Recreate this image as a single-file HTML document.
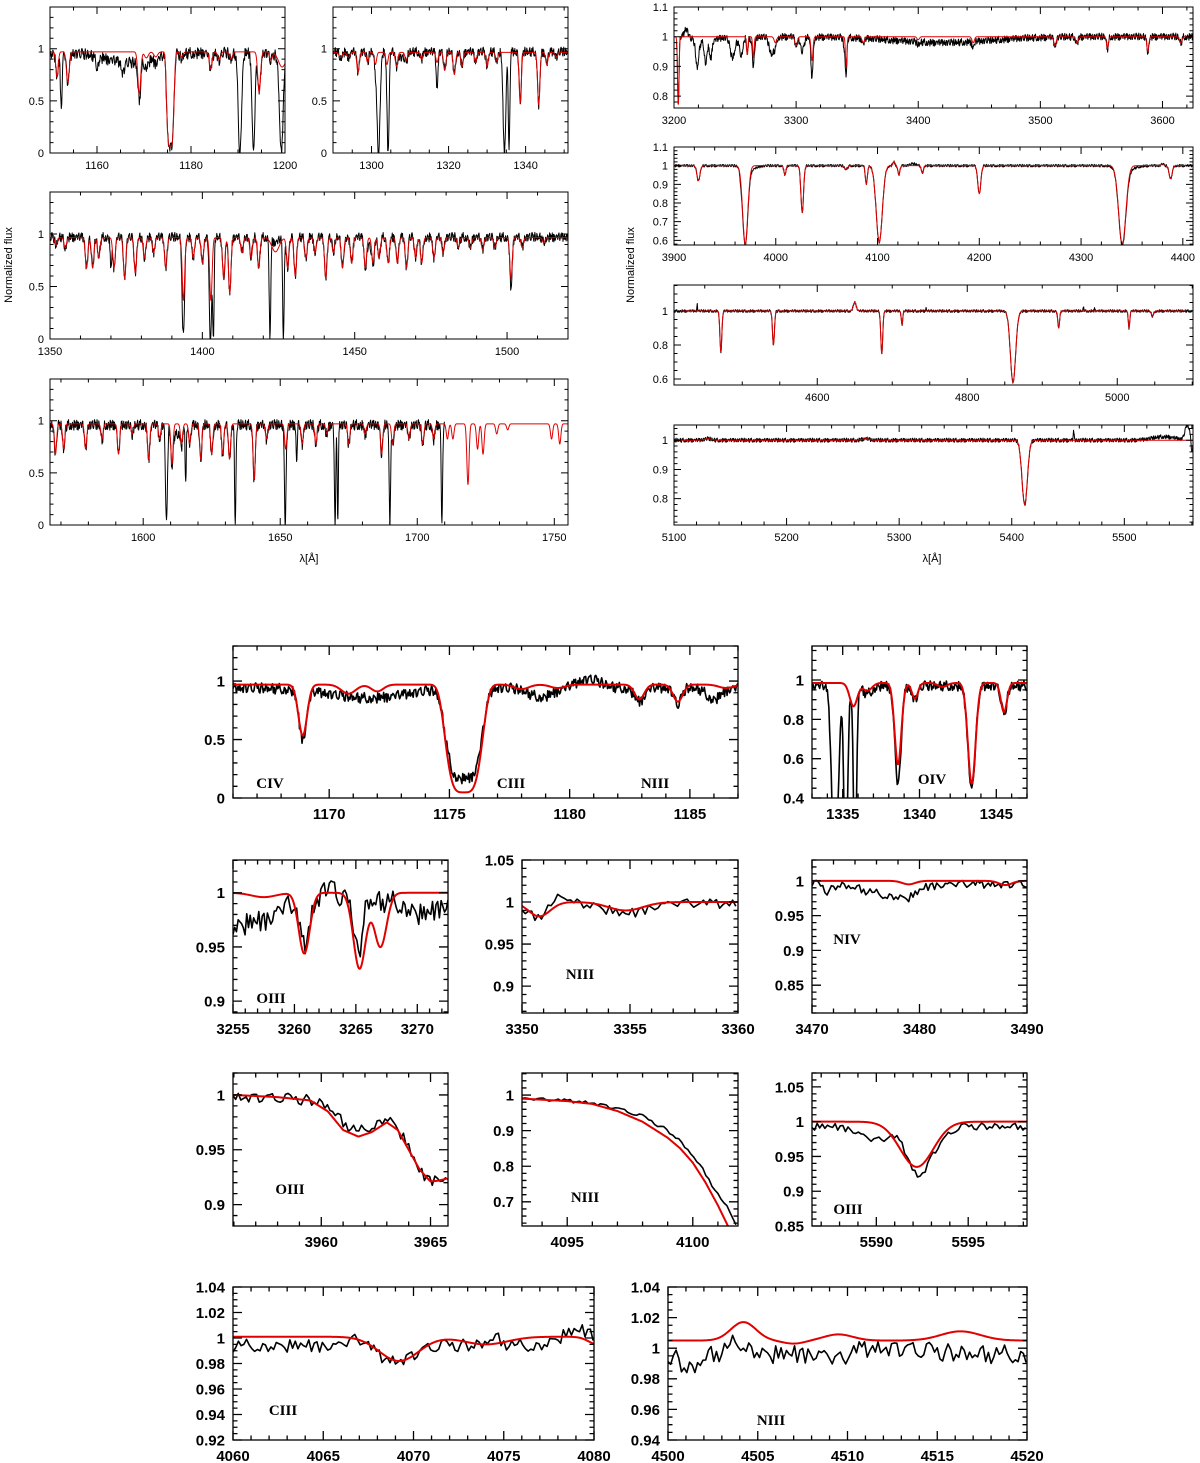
<!DOCTYPE html>
<html><head><meta charset="utf-8">
<style>
html,body{margin:0;padding:0;background:#fff;}
svg{display:block;}
</style></head>
<body>
<svg id="fig" width="1200" height="1463" viewBox="0 0 1200 1463" xmlns="http://www.w3.org/2000/svg">
  <rect x="0" y="0" width="1200" height="1463" fill="#fff"/>
  <text x="0" y="0" transform="translate(12,265) rotate(-90)" text-anchor="middle" font-family="Liberation Sans, sans-serif" font-size="11">Normalized flux</text>
  <text x="0" y="0" transform="translate(634,265) rotate(-90)" text-anchor="middle" font-family="Liberation Sans, sans-serif" font-size="11">Normalized flux</text>
  <text x="309" y="562" text-anchor="middle" font-family="Liberation Sans, sans-serif" font-size="11">λ[Å]</text>
  <text x="932" y="562" text-anchor="middle" font-family="Liberation Sans, sans-serif" font-size="11">λ[Å]</text>
</svg>
<script>
// ---------- shared noise table (hand-typed jitter values) ----------
const NOISE=[0.3,-0.8,0.5,-0.2,0.9,-0.6,0.1,-1.0,0.7,-0.3,0.4,-0.9,0.2,0.8,-0.5,-0.1,0.6,-0.7,1.0,-0.4,
0.0,0.5,-0.8,0.3,-0.2,0.9,-0.6,0.2,-0.9,0.7,0.1,-0.3,0.8,-0.5,0.4,-1.0,0.6,-0.1,0.3,-0.7,
0.9,-0.4,0.2,-0.8,0.5,0.0,-0.6,0.7,-0.2,1.0,-0.9,0.4,-0.3,0.6,-0.5,0.1,0.8,-0.7,0.3,-0.1,
-0.4,0.9,-0.8,0.2,0.5,-0.6,0.0,0.7,-1.0,0.4,-0.2,0.6,-0.3,0.8,-0.5,0.1,-0.9,0.3,0.7,-0.4,
0.5,-0.1,0.2,-0.7,0.9,-0.6,0.4,-0.2,0.0,0.6,-0.8,0.3,-0.5,1.0,-0.3,0.1,-0.4,0.7,-0.9,0.2,0.5];

// ---------- panel P1: 1150-1200 ----------
const p1ModelLines=[[1151.5,0.25,0.25],[1153.8,0.3,0.3],[1169,0.42,0.3],[1170.5,0.06,0.4],[1172.5,0.05,0.4],[1175.6,0.94,0.75,4],[1178,0.05,0.3],[1184.2,0.17,0.3],[1186,0.08,0.3],[1188.5,0.07,0.3],[1194.5,0.4,0.3],[1197,0.08,0.3],[1199.4,0.15,0.8]];
const p1ObsExtra=[[1152.4,0.55,0.18],[1167,0.1,5],[1160,0.1,0.3],[1165.5,0.12,0.3],[1190.4,1,0.35],[1193.3,1,0.3],[1199.2,1,0.35],[1175.7,-0.1,0.4]];
// ---------- panel P2: 1290-1350 ----------
const p2ModelLines=[[1292,0.05,0.4],[1294,0.05,0.4],[1296.5,0.2,0.3],[1299,0.1,0.3],[1301,0.12,0.3],[1304,0.12,0.3],[1306.5,0.14,0.3],[1309,0.08,0.3],[1313,0.07,0.3],[1317,0.1,0.3],[1319,0.18,0.3],[1321.5,0.22,0.3],[1323.5,0.14,0.3],[1327,0.1,0.3],[1330,0.14,0.3],[1332.5,0.08,0.3],[1338.6,0.5,0.28],[1343.4,0.52,0.3],[1345.5,0.12,0.3],[1348,0.05,0.3]];
const p2ObsExtra=[[1301.8,1,0.4],[1304.3,1,0.25],[1334.5,1,0.35],[1335.7,1,0.2],[1317,0.3,0.2],[1308,0.06,0.8]];
// ---------- panel P3: 1350-1520 ----------
const p3ModelLines=[[1352,0.08,0.4],[1355,0.1,0.4],[1362,0.3,0.4],[1364,0.3,0.4],[1366,0.2,0.4],[1371,0.3,0.4],[1374.5,0.4,0.4],[1378,0.35,0.4],[1381,0.2,0.4],[1384,0.15,0.4],[1388,0.3,0.4],[1393.8,0.62,0.4],[1397,0.2,0.4],[1400,0.25,0.4],[1402.8,0.62,0.4],[1407,0.4,0.4],[1409,0.55,0.4],[1413,0.15,0.4],[1416,0.2,0.4],[1418.5,0.3,0.4],[1424,0.14,1.2],[1428,0.3,0.4],[1430.5,0.38,0.4],[1434,0.2,0.4],[1437,0.15,0.4],[1440.5,0.4,0.4],[1443,0.15,0.4],[1446,0.3,0.4],[1449,0.25,0.4],[1453.5,0.3,0.4],[1456,0.25,0.4],[1458,0.2,0.4],[1461,0.25,0.4],[1464,0.25,0.4],[1467,0.3,0.4],[1470,0.2,0.4],[1472,0.25,0.4],[1476,0.2,0.4],[1479,0.15,0.4],[1484,0.1,0.4],[1488,0.1,0.4],[1492,0.12,0.4],[1496,0.1,0.4],[1501.3,0.4,0.4],[1505,0.1,0.4],[1512,0.05,0.4]];
const p3ObsExtra=[[1393.7,0.9,0.3],[1402.6,1,0.3],[1403.6,1,0.25],[1422.2,1,0.25],[1426.6,1,0.25],[1370,0.3,0.25],[1501.3,0.2,0.25],[1424,-0.1,1.2],[1455,0.08,1]];
// ---------- panel P4: 1566-1755 ----------
const p4ModelLines=[[1568,0.3,0.4],[1571,0.25,0.4],[1579,0.25,0.4],[1585,0.15,0.4],[1591,0.3,0.4],[1596,0.1,0.4],[1602,0.35,0.4],[1606,0.15,0.4],[1610.5,0.4,0.4],[1614,0.2,0.4],[1617,0.2,0.4],[1621,0.35,0.4],[1625,0.3,0.4],[1629,0.3,0.4],[1631.5,0.35,0.4],[1640.5,0.55,0.4],[1645,0.15,0.4],[1652,0.25,0.4],[1658,0.2,0.4],[1663,0.2,0.4],[1667,0.1,0.4],[1675,0.2,0.4],[1681,0.1,0.4],[1687,0.3,0.4],[1691,0.2,0.4],[1697,0.15,0.4],[1702,0.2,0.4],[1706,0.15,0.4],[1711,0.15,0.4],[1713,0.15,0.4],[1718.5,0.6,0.4],[1722,0.25,0.4],[1724,0.3,0.4],[1729,0.1,0.4],[1733,0.06,0.4],[1749,0.15,0.4],[1752,0.2,0.4]];
const p4ObsExtra=[[1608.5,1,0.35],[1615.5,0.6,0.2],[1633.6,1,0.25],[1651.8,1,0.25],[1656,0.4,0.2],[1670,1,0.25],[1671,1,0.2],[1690,1,0.25],[1709,1,0.25],[1612,0.1,1.2]];
// ---------- panel R1: 3200-3625 ----------
const r1ModelLines=[[3203.5,0.23,0.6],[3260,0.06,0.6],[3265,0.07,0.6],[3283,0.02,1],[3300,0.03,1],[3313,0.08,0.8],[3341,0.1,0.6],[3355,0.02,1],[3400,0.01,1],[3445,0.02,1],[3512,0.03,1],[3530,0.02,1],[3555,0.04,0.8],[3588,0.05,0.8],[3615,0.02,1]];
const r1ObsExtra=[[3210,-0.03,1.5],[3219,0.09,1.2],[3226,0.07,1],[3230,0.06,1],[3248,0.07,2],[3255,0.06,1.5],[3265,0.04,1.5],[3280,0.06,2],[3305,0.05,1.5],[3313,0.06,1],[3340,0.05,1],[3420,0.02,40],[3225,0.02,8]];
// ---------- panel R2: 3900-4410 ----------
const r2ModelLines=[[3924,0.08,1.5],[3970,0.42,2.5],[4009,0.05,1],[4026,0.25,1.3],[4069,0.02,1.5],[4089,0.1,1],[4101.7,0.41,3],[4116,-0.02,1],[4121,0.05,1],[4144,0.04,1],[4200,0.15,1.5],[4340.5,0.42,3.5],[4380,-0.01,1],[4388,0.07,1.5]];
const r2ObsExtra=[[3966,0.03,1],[4135,-0.01,3],[3975,0.02,6],[4345,0.02,8]];
// ---------- panel R3: 4409-5101 ----------
const r3ModelLines=[[4471.5,0.24,1.3],[4541.6,0.2,1.3],[4650,-0.05,2],[4686,0.25,1.3],[4713,0.08,1],[4861,0.42,3.5],[4921.9,0.1,1.2],[5015.7,0.1,1],[5047,0.03,1.5]];
const r3ObsExtra=[[4440,-0.04,0.4],[4745,-0.02,0.4],[4955,-0.03,0.4],[4970,-0.02,0.4]];
// ---------- panel R4: 5100-5560 ----------
const r4ModelLines=[[5130,-0.005,3],[5270,-0.005,3],[5411.5,0.22,2.4]];
const r4ObsExtra=[[5455,-0.03,0.4],[5535,-0.012,10],[5556,-0.05,2],[5560,0.05,0.6]];
// ---------- bottom panels ----------
const b1ModelLines=[[1168.9,0.45,0.18],[1170.8,0.08,0.3],[1172,0.06,0.25],[1175.6,0.95,0.72,4],[1178,0.04,0.3],[1179.5,0.03,0.3],[1182.9,0.13,0.2],[1184.5,0.15,0.2],[1186.5,0.03,0.3]];
const b1ObsLines=[[1168.9,0.45,0.16],[1171.6,0.09,1.6],[1175.6,0.82,0.72,4],[1178.8,0.08,0.5],[1180.8,-0.08,0.5],[1182.9,0.12,0.2],[1184.5,0.15,0.15],[1186,0.1,0.3]];
const b2ModelLines=[[1335.7,0.12,0.25],[1336.6,0.04,0.3],[1338.6,0.42,0.22],[1339.7,0.08,0.2],[1341.5,0.02,0.3],[1343.4,0.52,0.25],[1345.5,0.15,0.2]];
const b2ObsLines=[[1334.5,1,0.2],[1335.2,1,0.12],[1335.8,1,0.1],[1336.6,0.04,0.3],[1338.6,0.52,0.2],[1339.7,0.07,0.2],[1343.4,0.54,0.24],[1345.5,0.15,0.18]];
const b3ModelLines=[[3257.5,0.004,1],[3260.8,0.056,0.45],[3265.3,0.07,0.5],[3267,0.05,0.5]];
const b3ObsLines=[[3255,0.02,1.2],[3257.5,0.015,1.2],[3260.8,0.04,0.4],[3262.8,-0.015,0.5],[3265.2,0.05,0.3],[3270.5,0.012,1]];
const b4ModelLines=[[3350.8,0.017,0.5],[3354.8,0.01,0.8]];
const b4ObsLines=[[3350.6,0.015,0.5],[3352,-0.01,0.4],[3354.8,0.012,0.8]];
const b5ModelLines=[[3479,0.005,0.6],[3488,0.006,0.6]];
const b5ObsLines=[[3477,0.015,2],[3479,0.01,0.8],[3471.5,0.01,0.4]];
const b6ModelX=[3956,3958,3959.5,3960.3,3961,3961.7,3962.3,3963,3963.5,3964,3964.5,3965,3965.4,3965.8];
const b6ModelY=[1.0,0.998,0.995,0.985,0.968,0.962,0.966,0.975,0.968,0.950,0.932,0.921,0.922,0.924];
const b6ObsY=[0.998,0.997,0.995,0.99,0.975,0.966,0.972,0.98,0.97,0.952,0.93,0.922,0.925,0.922];
const b7ModelX=[4093.2,4095,4096,4097,4098,4099,4099.5,4100,4100.5,4101,4101.4,4101.8];
const b7ModelY=[0.99,0.983,0.975,0.955,0.925,0.88,0.85,0.81,0.755,0.69,0.632,0.58];
const b7ObsY=[0.99,0.984,0.978,0.962,0.94,0.9,0.87,0.83,0.78,0.72,0.68,0.63];
const b8ModelLines=[[5592.2,0.065,0.9]];
const b8ObsLines=[[5592.3,0.07,0.6],[5590,0.02,0.8],[5593.5,0.015,0.5]];
const b9ModelLines=[[4069.2,0.019,1.1],[4074,0.006,1.2],[4080.2,0.006,0.5]];
const b9ObsLines=[[4069,0.012,1],[4067,-0.006,0.5],[4079.2,-0.012,1],[4074.5,-0.006,0.4]];
const b10ModelLines=[[4504.2,-0.012,0.7],[4509.5,-0.004,0.8],[4516.3,-0.006,1.1],[4507,0.002,0.6]];
const b10ObsLines=[[4501.2,0.01,0.5],[4504,-0.008,0.6],[4509.5,0.006,0.5],[4512,-0.004,2]];

const NS='http://www.w3.org/2000/svg';
const svg=document.getElementById('fig');
function mk(tag,attrs,parent){const e=document.createElementNS(NS,tag);for(const k in attrs)e.setAttribute(k,attrs[k]);(parent||svg).appendChild(e);return e;}
function profile(l,cont,lines){let v=cont;for(const ln of lines){const p=ln[3]||2;const z=Math.abs((l-ln[0])/ln[2]);v*=(1-ln[1]*Math.exp(-0.5*Math.pow(z,p)));}return v;}
function interp(xs,ys,x){if(x<=xs[0])return ys[0];for(let i=1;i<xs.length;i++){if(x<=xs[i]){const t=(x-xs[i-1])/(xs[i]-xs[i-1]);return ys[i-1]+t*(ys[i]-ys[i-1]);}}return ys[ys.length-1];}

let clipId=0;
function panel(c){
  const g=mk('g',{});
  
  
  const X=v=>c.px0+(v-c.xmin)/(c.xmax-c.xmin)*(c.px1-c.px0);
  const Y=v=>c.py1-(v-c.ymin)/(c.ymax-c.ymin)*(c.py1-c.py0);
  const id='clip'+(clipId++);
  const cp=mk('clipPath',{id:id},g);
  mk('rect',{x:c.px0,y:c.py0,width:c.px1-c.px0,height:c.py1-c.py0},cp);
  const sg=mk('g',{'clip-path':'url(#'+id+')'},g);
  
  
  for(const s of c.series){
    let d='';let i=0;
    const x0=s.from!==undefined?s.from:c.xmin, x1=s.to!==undefined?s.to:c.xmax;
    for(let l=x0;l<=x1+1e-9;l+=s.step){
      let v=s.lines?profile(l,s.cont,s.lines):interp(s.xs,s.ys,l);
      if(s.amp)v+=s.amp*NOISE[(i*37+s.seed)%NOISE.length];
      d+=(i?'L':'M')+X(l).toFixed(2)+' '+Y(v).toFixed(2);i++;
    }
    const p=mk('path',{d:d,fill:'none',stroke:s.color,'stroke-width':s.w,'stroke-linejoin':'round'},sg);
    
    
  }
  const fr=mk('rect',{x:c.px0,y:c.py0,width:c.px1-c.px0,height:c.py1-c.py0,fill:'none',stroke:'#000','stroke-width':c.fw},g);
  
  
  let td='';
  const eps=1e-6;
  for(let k=Math.ceil(c.xmin/c.xminor-eps);k*c.xminor<=c.xmax+eps;k++){
    const v=k*c.xminor;const maj=Math.abs(v/c.xmajor-Math.round(v/c.xmajor))<1e-4;
    const L=maj?c.tl:c.tl/2;const x=X(v).toFixed(2);
    td+=`M${x} ${c.py1}V${c.py1-L}M${x} ${c.py0}V${c.py0+L}`;
    if(maj){const t=mk('text',{x:x,y:c.py1+c.lab,'text-anchor':'middle','font-family':'Liberation Sans, sans-serif','font-size':c.fs,'font-weight':c.fwt},g);
      t.textContent=String(parseFloat(v.toFixed(3)));
      
      }
  }
  for(let k=Math.ceil(c.ymin/c.yminor-eps);k*c.yminor<=c.ymax+eps;k++){
    const v=k*c.yminor;const maj=Math.abs(v/c.ymajor-Math.round(v/c.ymajor))<1e-4;
    const L=maj?c.tl:c.tl/2;const y=Y(v).toFixed(2);
    td+=`M${c.px0} ${y}H${c.px0+L}M${c.px1} ${y}H${c.px1-L}`;
    if(maj){const t=mk('text',{x:c.px0-c.ylab,y:(+y+c.fs*0.36).toFixed(2),'text-anchor':'end','font-family':'Liberation Sans, sans-serif','font-size':c.fs,'font-weight':c.fwt},g);
      t.textContent=String(parseFloat(v.toFixed(3)));
      
      }
  }
  const tk=mk('path',{d:td,stroke:'#000','stroke-width':c.fw,fill:'none'},g);
  
  
  for(const a of (c.ions||[])){
    const t=mk('text',{x:a[1],y:a[2],'text-anchor':'middle','font-family':'Liberation Serif, serif','font-size':15,'font-weight':'bold'},g);
    t.textContent=a[0];
    
    
  }
}
const TOP={fw:1,tl:7,fs:11,fwt:'normal',lab:16,ylab:6};
const BOT={fw:1.3,tl:9,fs:15,fwt:'bold',lab:21,ylab:8};
function M(lines,cont,step){return {lines:lines,cont:cont,step:step,color:'#e00000',w:1,label:'model-line'};}
function O(lines,cont,step,amp,seed){return {lines:lines,cont:cont,step:step,amp:amp,seed:seed,color:'#000',w:1,label:'observed-line'};}

panel(Object.assign({},TOP,{name:'panel-1150-1200',px0:50,px1:285,py0:7,py1:153,xmin:1150,xmax:1200,ymin:0,ymax:1.4,xmajor:20,xminor:5,ymajor:0.5,yminor:0.1,
 series:[O(p1ModelLines.concat(p1ObsExtra),0.96,0.1,0.055,1),M(p1ModelLines,0.97,0.05)]}));
panel(Object.assign({},TOP,{name:'panel-1290-1350',px0:333,px1:568,py0:7,py1:153,xmin:1290,xmax:1351,ymin:0,ymax:1.4,xmajor:20,xminor:5,ymajor:0.5,yminor:0.1,
 series:[O(p2ModelLines.concat(p2ObsExtra),0.97,0.1,0.045,5),M(p2ModelLines,0.965,0.05)]}));
panel(Object.assign({},TOP,{name:'panel-1350-1520',px0:50,px1:568,py0:192,py1:339,xmin:1350,xmax:1520,ymin:0,ymax:1.4,xmajor:50,xminor:10,ymajor:0.5,yminor:0.1,
 series:[O(p3ModelLines.concat(p3ObsExtra),0.97,0.13,0.045,9),M(p3ModelLines,0.965,0.08)]}));
panel(Object.assign({},TOP,{name:'panel-1566-1755',px0:50,px1:568,py0:379,py1:525,xmin:1566,xmax:1755,ymin:0,ymax:1.4,xmajor:50,xminor:10,ymajor:0.5,yminor:0.1,
 series:[Object.assign(O(p4ModelLines.concat(p4ObsExtra),0.96,0.13,0.05,13),{to:1710}),M(p4ModelLines,0.97,0.08)]}));
panel(Object.assign({},TOP,{name:'panel-3200-3625',px0:674,px1:1193,py0:7,py1:108,xmin:3200,xmax:3625,ymin:0.76,ymax:1.1,xmajor:100,xminor:20,ymajor:0.1,yminor:0.02,
 series:[Object.assign(O(r1ModelLines.concat(r1ObsExtra),1.0,0.3,0.012,17),{from:3202}),M(r1ModelLines,1.0,0.2)]}));
panel(Object.assign({},TOP,{name:'panel-3900-4410',px0:674,px1:1193,py0:147,py1:245,xmin:3900,xmax:4410,ymin:0.575,ymax:1.1,xmajor:100,xminor:20,ymajor:0.1,yminor:0.02,
 series:[O(r2ModelLines.concat(r2ObsExtra),1.0,0.35,0.007,21),M(r2ModelLines,1.0,0.25)]}));
panel(Object.assign({},TOP,{name:'panel-4409-5101',px0:674,px1:1193,py0:285,py1:385,xmin:4409,xmax:5101,ymin:0.565,ymax:1.153,xmajor:200,xminor:50,ymajor:0.2,yminor:0.05,
 series:[O(r3ModelLines.concat(r3ObsExtra),1.0,0.45,0.008,25),M(r3ModelLines,1.0,0.3)]}));
panel(Object.assign({},TOP,{name:'panel-5100-5560',px0:674,px1:1193,py0:425,py1:525,xmin:5100,xmax:5561,ymin:0.71,ymax:1.052,xmajor:100,xminor:20,ymajor:0.1,yminor:0.02,
 series:[O(r4ModelLines.concat(r4ObsExtra),1.0,0.3,0.007,29),M(r4ModelLines,1.0,0.3)]}));

function BM(lines,cont,step){return {lines:lines,cont:cont,step:step,color:'#e00000',w:2,label:'model-line'};}
function BO(lines,cont,step,amp,seed){return {lines:lines,cont:cont,step:step,amp:amp,seed:seed,color:'#000',w:1.6,label:'observed-line'};}
panel(Object.assign({},BOT,{name:'panel-civ-ciii-niii',px0:233,px1:738,py0:646,py1:798,xmin:1166,xmax:1187,ymin:0,ymax:1.3,xmajor:5,xminor:1,ymajor:0.5,yminor:0.1,
 ions:[['CIV',270,788],['CIII',511,788],['NIII',655,788]],
 series:[BO(b1ObsLines,0.94,0.035,0.045,3),BM(b1ModelLines,0.97,0.02)]}));
panel(Object.assign({},BOT,{name:'panel-oiv',px0:812,px1:1027,py0:646,py1:798,xmin:1333,xmax:1347,ymin:0.4,ymax:1.173,xmajor:5,xminor:1,ymajor:0.2,yminor:0.05,
 ions:[['OIV',932,784]],
 series:[BO(b2ObsLines,0.97,0.05,0.025,7),BM(b2ModelLines,0.985,0.02)]}));
panel(Object.assign({},BOT,{name:'panel-oiii-3265',px0:233,px1:448,py0:860,py1:1013,xmin:3255,xmax:3272.5,ymin:0.889,ymax:1.0303,xmajor:5,xminor:1,ymajor:0.05,yminor:0.01,
 ions:[['OIII',271,1003]],
 series:[BO(b3ObsLines,0.992,0.14,0.01,11),BM(b3ModelLines,1.0,0.05)]}));
panel(Object.assign({},BOT,{name:'panel-niii-3355',px0:522,px1:738,py0:860,py1:1013,xmin:3350,xmax:3360,ymin:0.868,ymax:1.05,xmajor:5,xminor:1,ymajor:0.05,yminor:0.01,
 ions:[['NIII',580,979]],
 series:[BO(b4ObsLines,0.998,0.15,0.006,15),BM(b4ModelLines,1.0,0.05)]}));
panel(Object.assign({},BOT,{name:'panel-niv-3480',px0:812,px1:1027,py0:860,py1:1013,xmin:3470,xmax:3490,ymin:0.81,ymax:1.03,xmajor:10,xminor:2,ymajor:0.05,yminor:0.01,
 ions:[['NIV',847,944]],
 series:[BO(b5ObsLines,0.995,0.2,0.006,19),BM(b5ModelLines,1.0,0.1)]}));
panel(Object.assign({},BOT,{name:'panel-oiii-3962',px0:233,px1:448,py0:1073,py1:1226,xmin:3955.96,xmax:3965.8,ymin:0.8805,ymax:1.02,xmajor:5,xminor:1,ymajor:0.05,yminor:0.01,
 ions:[['OIII',290,1194]],
 series:[{xs:b6ModelX,ys:b6ObsY,step:0.12,amp:0.005,seed:23,color:'#000',w:1.6,label:'observed-line'},{xs:b6ModelX,ys:b6ModelY,step:0.05,color:'#e00000',w:2,label:'model-line'}]}));
panel(Object.assign({},BOT,{name:'panel-niii-4097',px0:522,px1:738,py0:1073,py1:1226,xmin:4093.2,xmax:4101.8,ymin:0.632,ymax:1.062,xmajor:5,xminor:1,ymajor:0.1,yminor:0.02,
 ions:[['NIII',585,1202]],
 series:[{xs:b7ModelX,ys:b7ObsY,step:0.12,amp:0.005,seed:27,color:'#000',w:1.6,label:'observed-line'},{xs:b7ModelX,ys:b7ModelY,step:0.05,color:'#e00000',w:2,label:'model-line'}]}));
panel(Object.assign({},BOT,{name:'panel-oiii-5592',px0:812,px1:1027,py0:1073,py1:1226,xmin:5586.5,xmax:5598.2,ymin:0.85,ymax:1.07,xmajor:5,xminor:1,ymajor:0.05,yminor:0.01,
 ions:[['OIII',848,1214]],
 series:[BO(b8ObsLines,0.993,0.14,0.005,31),BM(b8ModelLines,1.0,0.05)]}));
panel(Object.assign({},BOT,{name:'panel-ciii-4069',px0:233,px1:594,py0:1287,py1:1440,xmin:4060,xmax:4080,ymin:0.92,ymax:1.04,xmajor:5,xminor:1,ymajor:0.02,yminor:0.005,
 ions:[['CIII',283,1415]],
 series:[BO(b9ObsLines,0.994,0.15,0.005,35),BM(b9ModelLines,1.001,0.08)]}));
panel(Object.assign({},BOT,{name:'panel-niii-4510',px0:668,px1:1027,py0:1287,py1:1440,xmin:4500,xmax:4520,ymin:0.94,ymax:1.04,xmajor:5,xminor:1,ymajor:0.02,yminor:0.005,
 ions:[['NIII',771,1425]],
 series:[BO(b10ObsLines,0.996,0.15,0.006,39),BM(b10ModelLines,1.005,0.08)]}));
</script>
</body></html>
